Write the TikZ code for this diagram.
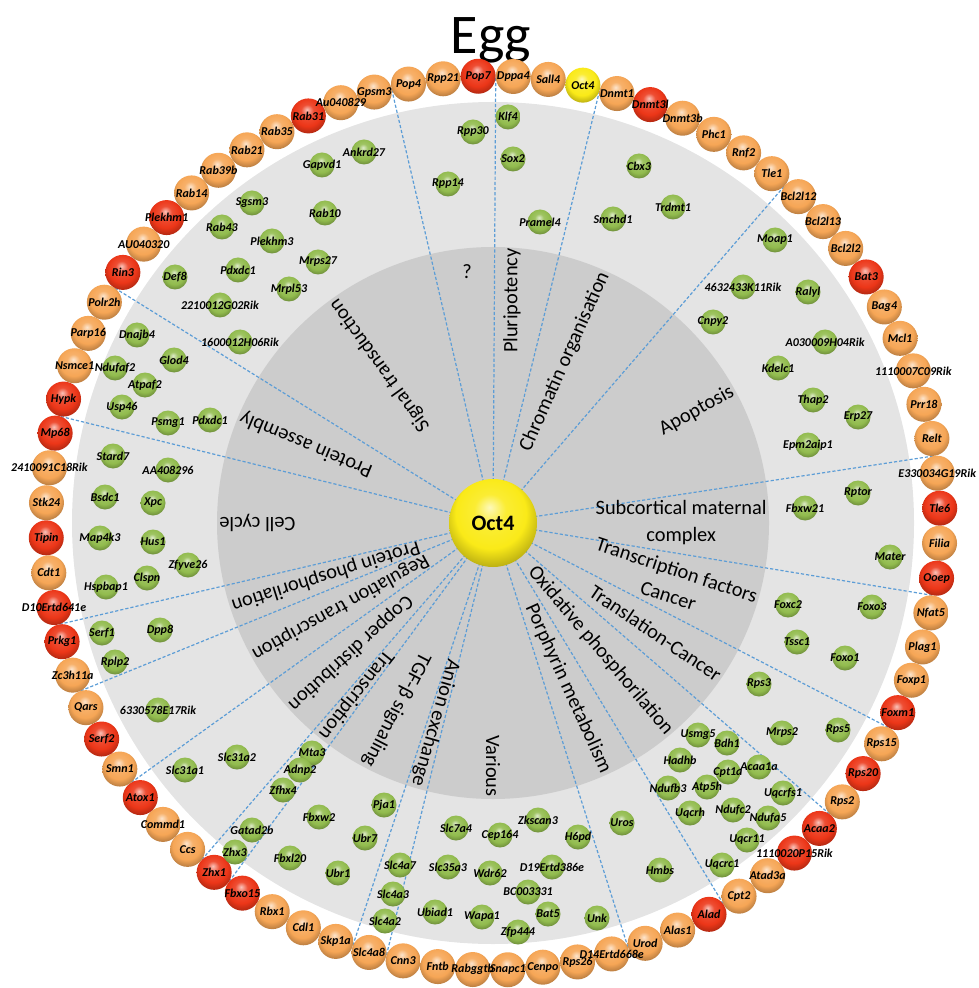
\documentclass[tikz,border=0pt]{standalone}
\usepackage{fontspec}
\setmainfont{Carlito}
\definecolor{ringorange}{RGB}{246,166,86}
\definecolor{ringred}{RGB}{236,54,24}
\definecolor{hubyellow}{RGB}{250,234,24}
\definecolor{genegreen}{RGB}{146,188,78}
\definecolor{lightdisk}{RGB}{228,228,228}
\definecolor{darkdisk}{RGB}{204,204,204}
\definecolor{linkblue}{RGB}{92,157,214}
\pgfdeclarelayer{back}
\pgfdeclarelayer{links}
\pgfsetlayers{back,links,main}

% glossy balls, lit from the top
\newcommand\glossy[2]{\pgfdeclareradialshading{ball#1}{\pgfpoint{-2bp}{9bp}}{%
  color(0bp)=(#2!30!white); color(9bp)=(#2!88!white); color(20bp)=(#2);
  color(30bp)=(#2!72!black); color(50bp)=(#2!72!black)}}
\glossy{orange}{ringorange}
\glossy{red}{ringred}
\glossy{yellow}{hubyellow}
\glossy{green}{genegreen}

% outer ring, clockwise from the top
\newcommand\ringgenes{Oct4/yellow, Dnmt1/orange, Dnmt3l/red, Dnmt3b/orange, Phc1/orange,
  Rnf2/orange, Tle1/orange, Bcl2l12/orange, Bcl2l13/orange, Bcl2l2/orange, Bat3/red,
  Bag4/orange, Mcl1/orange, 1110007C09Rik/orange, Prr18/orange, Relt/orange,
  E330034G19Rik/orange, Tle6/red, Filia/orange, Ooep/red, Nfat5/orange, Plag1/orange,
  Foxp1/orange, Foxm1/red, Rps15/orange, Rps20/red, Rps2/orange, Acaa2/red,
  1110020P15Rik/red, Atad3a/orange, Cpt2/orange, Alad/red, Alas1/orange, Urod/orange,
  D14Ertd668e/orange, Rps26/orange, Cenpo/orange, Snapc1/orange, Rabggtb/orange,
  Fntb/orange, Cnn3/orange, Slc4a8/orange, Skp1a/orange, Cdl1/orange, Rbx1/orange,
  Fbxo15/red, Zhx1/red, Ccs/orange, Commd1/orange, Atox1/red, Smn1/orange, Serf2/red,
  Qars/orange, Zc3h11a/orange, Prkg1/red, D10Ertd641e/red, Cdt1/orange, Tipin/red,
  Stk24/orange, 2410091C18Rik/orange, Mp68/red, Hypk/red, Nsmce1/orange, Parp16/orange,
  Polr2h/orange, Rin3/red, AU040320/orange, Plekhm1/red, Rab14/orange, Rab39b/orange,
  Rab21/orange, Rab35/orange, Rab31/red, Au040829/orange, Gpsm3/orange, Pop4/orange,
  Rpp21/orange, Pop7/red, Dppa4/orange, Sall4/orange}

% inner genes, at pixel positions
\newcommand\greengenes{Gapvd1/322/165, Ankrd27/364/152, Sgsm3/252/203, Rab10/325/213,
  Rab43/222/227, Plekhm3/272/241, Mrps27/318/262, Pdxdc1/238/270, Def8/175/277,
  Mrpl53/289/289, 2210012G02Rik/220/305, 1600012H06Rik/240/342, Rpp30/473/132,
  Rpp14/448/184, Klf4/508/117, Sox2/513/159, Pramel4/540/222, Cbx3/639/166,
  Smchd1/613/219, Trdmt1/673/207, Moap1/775/240, 4632433K11Rik/743/287, Ralyl/808/292,
  Cnpy2/713/322, A030009H04Rik/825/342, Kdelc1/778/368, Thap2/813/400, Erp27/858/417,
  Epm2aip1/808/445, Rptor/858/493, Fbxw21/805/508, Mater/890/557, Foxc2/788/605,
  Foxo3/872/607, Tssc1/797/642, Foxo1/845/658, Rps3/759/684, Mrps2/782/733,
  Rps5/838/730, Usmg5/698/735, Bdh1/727/743, Hadhb/680/760, Cpt1a/728/772,
  Acaa1a/759/767, Ndufb3/668/788, Atp5h/707/787, Uqcrfs1/783/793, Uqcrh/690/813,
  Ndufc2/733/810, Ndufa5/768/818, Uqcr11/747/840, Uqcrc1/722/865, Uros/622/823,
  Hmbs/660/870, Slc7a4/456/828, Cep164/500/835, Zkscan3/538/820, H6pd/578/837,
  Slc35a3/448/867, Wdr62/490/873, D19Ertd386e/552/867, BC003331/528/892, Bat5/548/914,
  Ubiad1/435/912, Wapa1/482/917, Zfp444/518/932, Unk/597/918, Slc4a7/400/865,
  Slc4a3/393/894, Slc4a2/385/921, Pja1/384/805, Fbxw2/319/817, Ubr7/365/838,
  Fbxl20/290/858, Ubr1/338/873, Mta3/312/753, Adnp2/300/770, Zfhx4/283/790,
  Gatad2b/252/830, Zhx3/235/852, Slc31a1/185/770, Slc31a2/237/757,
  6330578E17Rik/158/710, Serf1/102/633, Dpp8/160/630, Rplp2/115/662, Stard7/113/456,
  AA408296/168/470, Bsdc1/105/497, Xpc/153/503, Map4k3/100/538, Hus1/153/542,
  Zfyve26/188/565, Hspbap1/106/587, Clspn/147/578, Dnajb4/137/335, Glod4/174/360,
  Ndufaf2/115/368, Atpaf2/145/385, Usp46/122/407, Psmg1/168/423, Pdxdc1/210/420}

\begin{document}
\begin{tikzpicture}[
  x=0.5pt,y=-0.5pt,
  every node/.style={text=black},
  ringball/.style={circle,inner sep=0pt,minimum size=17.5pt},
  geneball/.style={circle,inner sep=0pt,minimum size=12.5pt,shading=ballgreen},
  hub/.style={circle,inner sep=0pt,minimum size=44pt,shading=ballyellow,
    font=\fontsize{11}{13}\selectfont\bfseries},
  gtext/.style={font=\fontsize{6}{7}\selectfont\bfseries\itshape,inner sep=0pt},
  sector/.style={font=\fontsize{10.2}{13.5}\selectfont,anchor=east,inner sep=0pt,align=center},
  link/.style={linkblue,line width=0.6pt,dash pattern=on 1.6pt off 1pt}
]
\useasboundingbox (0,0) rectangle (978,988);

\node[font=\fontsize{28}{30}\selectfont,anchor=base] (title) at (491,54) {Egg};

\begin{scope}[shift={(493,523)}]
  % background disks
  \begin{pgfonlayer}{back}
    \fill[lightdisk] (0,0) circle[radius=421];
    \fill[darkdisk] (0,0) circle[radius=276];
  \end{pgfonlayer}

  % ring of 80 genes, 4.5 degrees apart
  \foreach \gname/\c [count=\i from 0] in \ringgenes
    \node[ringball,shading=ball\c] (r\i) at ({4.5*\i-78.4}:447) {};
  \foreach \gname/\c [count=\i from 0] in \ringgenes
    \node[gtext] (rt\i) at (r\i) {\gname};

  % sector borders sit between two ring balls
  \foreach \b [count=\j] in {0.5,6.5,15.5,19.5,23.5,26.5,30.5,33.5,40.5,41.5,
      45.5,46.5,49.5,52.5,54.5,60.5,64.5,74.5,77.5}
    \coordinate (b\j) at ({4.5*\b-78.4}:445);

  \node[hub] (hub) at (0,0) {Oct4};
  \begin{pgfonlayer}{links}
    \foreach \j in {1,...,19} \draw[link] (hub.center) -- (b\j);
  \end{pgfonlayer}

  % sector names, read outwards along the bisector
  \foreach \txt/\ang [count=\k] in {Signal transduction/125.65, Protein assembly/157.15,
      Cell cycle/180, Protein phosphorilation/197.65, Regulation transcription/208.9,
      Copper distribution/222.4, Transcription/231.4, TGF-β signaling/242.65,
      Anion exchange/253.9, Various/270, Porphyrin metabolism/294.4,
      Oxidative phosphorilation/310.15, Translation-Cancer/325.9,
      Transcription factors\\Cancer/341.65, Subcortical maternal\\complex/0,
      Apoptosis/28.9, Chromatin organisation/66}
    \node[sector,rotate=\ang] (sec\k) at ({-\ang}:274) {\txt};
  \node[sector,rotate=90] (plu) at (19,-275) {Pluripotency};
\end{scope}
\node[font=\fontsize{10.2}{12}\selectfont] (qmark) at (467,272) {?};

% inner genes
\foreach \gname/\x/\y [count=\k] in \greengenes
  \node[geneball] (g\k) at (\x,\y) {};
\foreach \gname/\x/\y [count=\k] in \greengenes
  \node[gtext] (gt\k) at (g\k) {\gname};
\end{tikzpicture}
\end{document}
